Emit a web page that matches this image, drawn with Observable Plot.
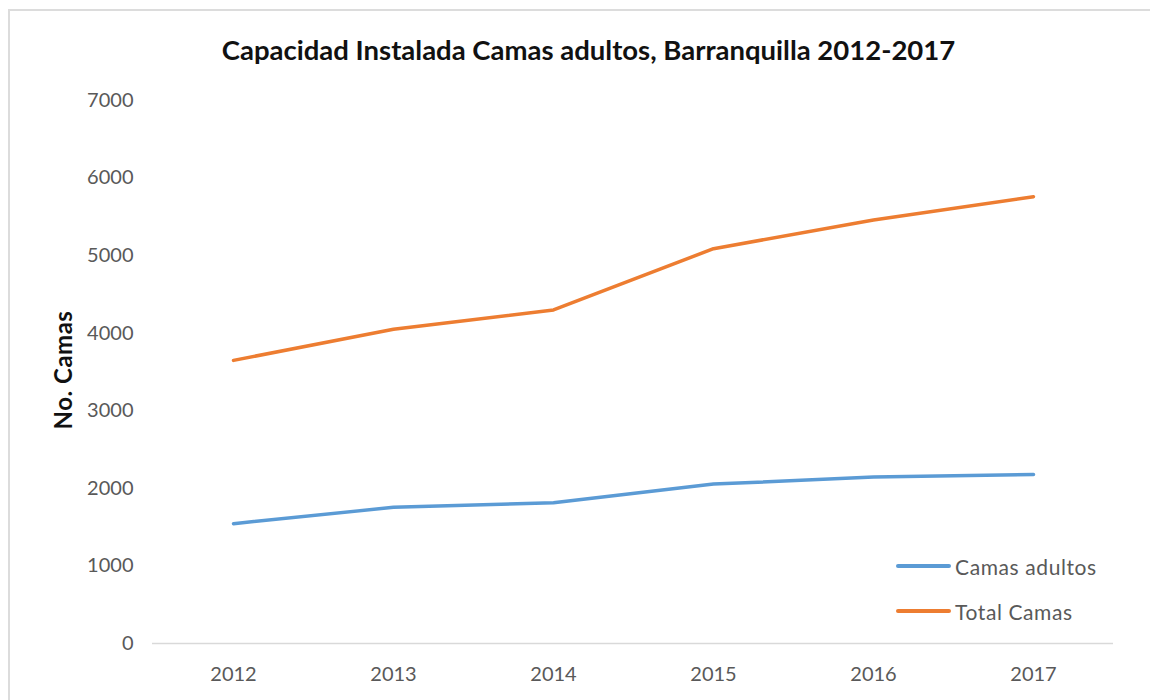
<!DOCTYPE html>
<html>
<head>
<meta charset="utf-8">
<script src="https://cdn.jsdelivr.net/npm/d3@7"></script>
<script src="https://cdn.jsdelivr.net/npm/@observablehq/plot@0.6"></script>
<style>
  html, body { margin: 0; padding: 0; background: #fff; }
  #wrap { position: relative; width: 1150px; height: 700px; overflow: hidden; background: #fff; font-family: Lato, "Open Sans", sans-serif; }
  #frame { position: absolute; left: 8px; top: 9px; width: 1200px; height: 760px; border-top: 2px solid #dcdcdc; border-left: 2px solid #dcdcdc; }
  #title { position: absolute; left: 0; width: 1177px; top: 32px; text-align: center; font-size: 27.5px; font-weight: bold; color: #111; line-height: 36px; }
  #ylabel { position: absolute; left: 62px; top: 370px; transform: translate(-50%, -50%) rotate(-90deg); font-size: 24px; font-weight: bold; color: #111; white-space: nowrap; letter-spacing: 0.5px; }
  #chart { position: absolute; left: 0; top: 80px; }
  .leg { position: absolute; display: flex; align-items: center; font-size: 21px; letter-spacing: 0.6px; color: #595959; height: 24px; }
  .leg span.sw { display: inline-block; width: 55px; height: 4px; margin-right: 4px; border-radius: 2px; }
</style>
</head>
<body>
<div id="wrap">
  <div id="frame"></div>
  <div id="title">Capacidad Instalada Camas adultos, Barranquilla 2012-2017</div>
  <div id="ylabel">No. Camas</div>
  <div id="chart"></div>
  <div id="legend"></div>
</div>
<script>
const years = ["2012", "2013", "2014", "2015", "2016", "2017"];
const camasAdultos = [1545, 1755, 1815, 2055, 2145, 2180];
const totalCamas = [3650, 4050, 4300, 5090, 5460, 5760];
const seriesNames = ["Camas adultos", "Total Camas"];
const seriesColors = ["#5B9BD5", "#ED7D31"];
const yTicks = [0, 1000, 2000, 3000, 4000, 5000, 6000, 7000];

const rows = [];
years.forEach((y, i) => {
  rows.push({year: y, value: camasAdultos[i], series: seriesNames[0]});
  rows.push({year: y, value: totalCamas[i], series: seriesNames[1]});
});

const plot = Plot.plot({
  width: 1150,
  height: 620,
  marginTop: 20,
  marginBottom: 57,
  marginLeft: 152,
  marginRight: 37,
  style: {fontFamily: "Lato, 'Open Sans', sans-serif", fontSize: "20px", color: "#595959", background: "transparent"},
  x: {type: "point", domain: years, padding: 0.5, label: null},
  y: {domain: [0, 7000], label: null},
  color: {domain: seriesNames, range: seriesColors},
  marks: [
    Plot.axisY({ticks: yTicks, tickFormat: d3.format("d"), tickSize: 0, tickPadding: 19, label: null, fill: "#595959", fontSize: 20}),
    Plot.axisX({tickSize: 0, tickPadding: 23, label: null, fill: "#595959", fontSize: 20}),
    Plot.ruleY([0], {stroke: "#d9d9d9", strokeWidth: 1.5}),
    Plot.line(rows, {x: "year", y: "value", z: "series", stroke: "series", strokeWidth: 3.5, strokeLinecap: "round", strokeLinejoin: "round"})
  ]
});
document.getElementById("chart").appendChild(plot);

const legend = document.getElementById("legend");
seriesNames.forEach((name, i) => {
  const d = document.createElement("div");
  d.className = "leg";
  d.style.left = "896px";
  d.style.top = (554 + i * 45) + "px";
  d.innerHTML = `<span class="sw" style="background:${seriesColors[i]}"></span>${name}`;
  legend.appendChild(d);
});
</script>
</body>
</html>
